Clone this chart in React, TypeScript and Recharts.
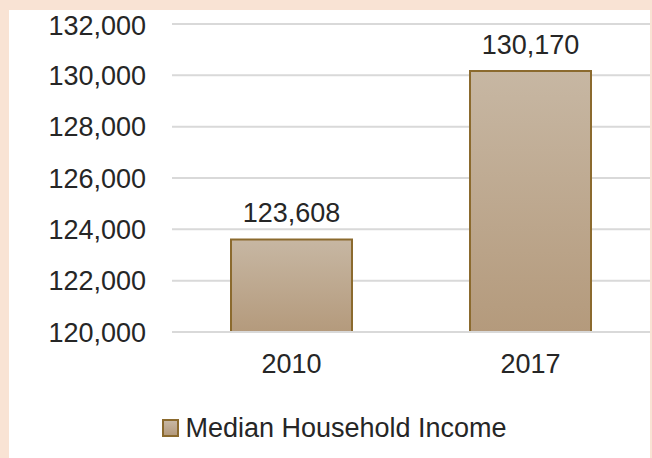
import React from "react";
import { BarChart, Bar, XAxis, YAxis, CartesianGrid, Legend, LabelList } from "recharts";

// values
const years = ["2010", "2017"];
const income = [123608, 130170];
const yTicks = [120000, 122000, 124000, 126000, 128000, 130000, 132000];
const seriesName = "Median Household Income";

const data = years.map((year, i) => ({ year, income: income[i] }));

const font = "'Liberation Sans', Arial, sans-serif";
const textColor = "#262626";

const fmt = (v: number) => v.toLocaleString("en-US");

const LegendBox = () => (
  <div
    style={{
      height: 60,
      display: "flex",
      alignItems: "center",
      justifyContent: "center",
      paddingLeft: 10,
      fontFamily: font,
      fontSize: 27,
      color: textColor,
    }}
  >
    <span
      style={{
        display: "inline-block",
        width: 13,
        height: 14,
        background: "linear-gradient(#C7B7A3, #B49A7C)",
        border: "2px solid #8B6A2E",
        marginRight: 6,
      }}
    />
    {seriesName}
  </div>
);

export default function App() {
  return (
    <div style={{ position: "absolute", left: 0, top: 0, width: 652, height: 458, background: "#F9E3D4" }}>
      <div style={{ position: "absolute", left: 9, top: 10, width: 641, height: 448, background: "#FFFFFF" }}>
        <BarChart width={641} height={448} data={data} margin={{ top: 14, right: 0, bottom: 0, left: 0 }}>
          <defs>
            <linearGradient id="barGrad" x1="0" y1="0" x2="0" y2="1">
              <stop offset="0%" stopColor="#C7B7A3" />
              <stop offset="100%" stopColor="#B49A7C" />
            </linearGradient>
          </defs>
          <CartesianGrid vertical={false} stroke="#D9D9D9" strokeWidth={2} />
          <XAxis
            dataKey="year"
            height={66}
            tickSize={0}
            tickMargin={22}
            axisLine={{ stroke: "#D9D9D9", strokeWidth: 2 }}
            tickLine={false}
            tick={{ fill: textColor, fontSize: 27, fontFamily: font }}
          />
          <YAxis
            domain={[120000, 132000]}
            ticks={yTicks}
            width={163}
            tickSize={0}
            tickMargin={26}
            axisLine={false}
            tickLine={false}
            tickFormatter={fmt}
            tick={{ fill: textColor, fontSize: 27, fontFamily: font }}
          />
          <Legend verticalAlign="bottom" content={<LegendBox />} />
          <Bar
            dataKey="income"
            name={seriesName}
            barSize={121}
            fill="url(#barGrad)"
            stroke="#8B6A2E"
            strokeWidth={2}
            isAnimationActive={false}
          >
            <LabelList
              dataKey="income"
              position="top"
              offset={17}
              formatter={(v: any) => fmt(Number(v))}
              style={{ fill: textColor, fontSize: 27, fontFamily: font }}
            />
          </Bar>
        </BarChart>
      </div>
    </div>
  );
}
